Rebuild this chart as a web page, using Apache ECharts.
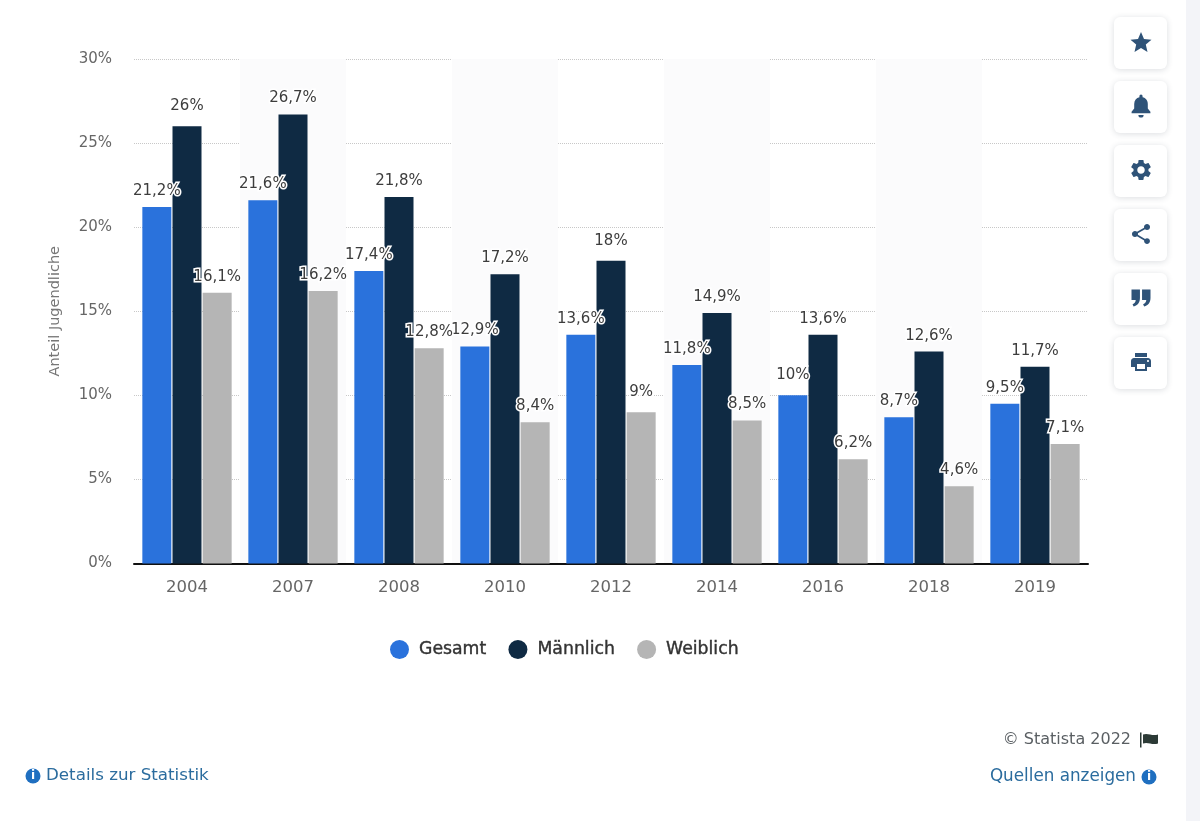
<!DOCTYPE html>
<html>
<head>
<meta charset="utf-8">
<title>Anteil Jugendliche</title>
<script src="https://cdn.jsdelivr.net/npm/echarts@6/dist/echarts.min.js"></script>
<style>
    html, body { margin: 0; padding: 0; background: #fff; }
    #chart { width: 1200px; height: 821px; }
</style>
</head>
<body>
<div id="chart"></div>
<script>
const years = ['2004', '2007', '2008', '2010', '2012', '2014', '2016', '2018', '2019'];
const gesamt = [21.2, 21.6, 17.4, 12.9, 13.6, 11.8, 10, 8.7, 9.5];
const maennlich = [26, 26.7, 21.8, 17.2, 18, 14.9, 13.6, 12.6, 11.7];
const weiblich = [16.1, 16.2, 12.8, 8.4, 9, 8.5, 6.2, 4.6, 7.1];

const fontName = '"DejaVu Sans", sans-serif';
const iconColor = '#2f5378';
const linkColor = '#2b6c9e';

// Toolbar icons on the right
const toolbarIcons = [
    'M12 2l3 6.9 7.5.7-5.7 4.9 1.7 7.3L12 17.9 5.5 21.8l1.7-7.3L1.5 9.6 9 8.9z',
    'M12 23a2.5 2.5 0 0 0 2.5-2.5h-5A2.5 2.5 0 0 0 12 23zM21 19v-1.5l-2.5-3V10c0-3.2-2-5.6-5-6.3V2.5a1.5 1.5 0 0 0-3 0v1.2c-3 .7-5 3.1-5 6.3v4.5l-2.5 3V19z',
    'M19.14 12.94c.04-.3.06-.61.06-.94 0-.32-.02-.64-.07-.94l2.03-1.58c.18-.14.23-.41.12-.61l-1.92-3.32c-.12-.22-.37-.29-.59-.22l-2.39.96c-.5-.38-1.03-.7-1.62-.94l-.36-2.54c-.04-.24-.24-.41-.48-.41h-3.84c-.24 0-.43.17-.47.41l-.36 2.54c-.59.24-1.13.57-1.62.94l-2.39-.96c-.22-.08-.47 0-.59.22L2.74 8.87c-.12.21-.08.47.12.61l2.03 1.58c-.05.3-.09.63-.09.94s.02.64.07.94l-2.03 1.58c-.18.14-.23.41-.12.61l1.92 3.32c.12.22.37.29.59.22l2.39-.96c.5.38 1.03.7 1.62.94l.36 2.54c.05.24.24.41.48.41h3.84c.24 0 .44-.17.47-.41l.36-2.54c.59-.24 1.13-.56 1.62-.94l2.39.96c.22.08.47 0 .59-.22l1.92-3.32c.12-.22.07-.47-.12-.61l-2.01-1.58zM12 15.6c-1.98 0-3.6-1.62-3.6-3.6s1.62-3.6 3.6-3.6 3.6 1.62 3.6 3.6-1.62 3.6-3.6 3.6z',
    'M18 16.08c-.76 0-1.44.3-1.96.77L8.91 12.7c.05-.23.09-.46.09-.7s-.04-.47-.09-.7l7.05-4.11c.54.5 1.25.81 2.04.81 1.66 0 3-1.34 3-3s-1.34-3-3-3-3 1.34-3 3c0 .24.04.47.09.7L8.04 9.81C7.5 9.31 6.79 9 6 9c-1.66 0-3 1.34-3 3s1.34 3 3 3c.79 0 1.5-.31 2.04-.81l7.12 4.16c-.05.21-.08.43-.08.65 0 1.61 1.31 2.92 2.92 2.92 1.61 0 2.92-1.31 2.92-2.92s-1.31-2.92-2.92-2.92z',
    'M3 4h8v8c0 4-2 7-6 8l-1-2c2-.8 3-2.2 3-4H3zM13 4h8v8c0 4-2 7-6 8l-1-2c2-.8 3-2.2 3-4h-4z',
    'M19 8H5c-1.66 0-3 1.34-3 3v6h4v4h12v-4h4v-6c0-1.66-1.34-3-3-3zm-3 11H8v-5h8v5zm3-7c-.55 0-1-.45-1-1s.45-1 1-1 1 .45 1 1-.45 1-1 1zm-1-9H6v4h12V3z'
];
const iconSizes = [21, 23, 20, 20, 19, 20];
const buttonTops = [17, 81, 145, 209, 273, 337];
const flagIcon = 'M0 0h1.5v15H0zM3 2c5-2 9 2 15 0v9c-6 2-10-2-15 0z';

function percentLabel(value) {
    return String(value).replace('.', ',') + '%';
}

function barSeries(name, values, color) {
    return {
        name: name,
        type: 'bar',
        // whole numbers sit a bit higher above their bar
        data: values.map(function(v) {
            return { value: v, label: { distance: Number.isInteger(v) ? 12.5 : 8.5 } };
        }),
        barWidth: 29,
        barGap: '4%',
        itemStyle: { color: color },
        label: {
            show: true,
            position: 'top',
            formatter: function(p) { return percentLabel(p.value); },
            fontFamily: fontName,
            fontSize: 15,
            color: '#3d3d3d',
            textBorderColor: '#fff',
            textBorderWidth: 3
        }
    };
}

function infoIcon(cx, cy) {
    return [
        { type: 'circle', shape: { cx: cx, cy: cy, r: 7.5 }, style: { fill: '#1f6fc0' } },
        { type: 'text', x: cx, y: cy, style: { text: 'i', fill: '#fff', font: 'bold 12px ' + fontName, align: 'center', verticalAlign: 'middle' } }
    ];
}

const toolbar = [{ type: 'rect', shape: { x: 1186, y: 0, width: 14, height: 821 }, style: { fill: '#f3f4f8' } }];
buttonTops.forEach(function(top) {
    toolbar.push({
        type: 'rect',
        shape: { x: 1114, y: top, width: 53, height: 52, r: 6 },
        style: { fill: '#fff', shadowBlur: 6, shadowColor: 'rgba(40,50,70,0.16)', shadowOffsetY: 1 }
    });
});

const footer = [
    ...infoIcon(33, 776),
    { type: 'text', x: 46, y: 776, style: { text: 'Details zur Statistik', fill: linkColor, font: '16.7px ' + fontName, verticalAlign: 'middle' } },
    { type: 'text', x: 1131, y: 740, style: { text: '© Statista 2022', fill: '#5a5f63', font: '16px ' + fontName, align: 'right', verticalAlign: 'middle' } },
    { type: 'text', x: 1136, y: 777, style: { text: 'Quellen anzeigen', fill: linkColor, font: '16.8px ' + fontName, align: 'right', verticalAlign: 'middle' } },
    ...infoIcon(1149, 777)
];

// graphic has no plain path type, the icons go through a custom series
function renderIcons() {
    const children = toolbarIcons.map(function(pathData, i) {
        const size = iconSizes[i];
        return {
            type: 'path',
            shape: { pathData: pathData, layout: 'center', x: 1141 - size / 2, y: buttonTops[i] + 25 - size / 2, width: size, height: size },
            style: { fill: iconColor }
        };
    });
    children.push({
        type: 'path',
        shape: { pathData: flagIcon, layout: 'center', x: 1140, y: 732, width: 18, height: 16 },
        style: { fill: '#2c3a36' }
    });
    return { type: 'group', children: children };
}

const chart = echarts.init(document.getElementById('chart'));
chart.setOption({
    animation: false,
    backgroundColor: '#fff',
    textStyle: { fontFamily: fontName },
    grid: { left: 134, width: 954, top: 59, height: 504.5 },
    legend: {
        data: ['Gesamt', 'Männlich', 'Weiblich'],
        left: 385,
        top: 635,
        icon: 'circle',
        itemWidth: 19,
        itemHeight: 19,
        itemGap: 22,
        textStyle: { fontFamily: fontName, fontSize: 17.3, color: '#333', padding: [0, 0, 0, 5], textBorderColor: '#333', textBorderWidth: 0.4 }
    },
    xAxis: {
        type: 'category',
        data: years,
        axisTick: { show: false },
        axisLine: { lineStyle: { color: '#111', width: 2 } },
        axisLabel: { fontFamily: fontName, fontSize: 16.5, color: '#666', margin: 16 },
        splitArea: { show: true, areaStyle: { color: ['rgba(255,255,255,0)', '#fbfbfc'] } }
    },
    yAxis: {
        type: 'value',
        min: 0,
        max: 30,
        interval: 5,
        name: 'Anteil Jugendliche',
        nameLocation: 'middle',
        nameGap: 71,
        nameTextStyle: { fontFamily: fontName, fontSize: 14.5, color: '#777' },
        axisLine: { show: false },
        axisTick: { show: false },
        axisLabel: { fontFamily: fontName, fontSize: 15, color: '#666', margin: 22, formatter: '{value}%' },
        splitLine: { lineStyle: { color: '#c8c8c8', type: 'dotted' } }
    },
    series: [
        barSeries('Gesamt', gesamt, '#2a72dc'),
        barSeries('Männlich', maennlich, '#0f2a43'),
        barSeries('Weiblich', weiblich, '#b5b5b5'),
        { type: 'custom', coordinateSystem: 'none', data: [0], renderItem: renderIcons, silent: true, z: 10 }
    ],
    graphic: { elements: toolbar.concat(footer) }
});

window.addEventListener('resize', function() {
    chart.resize();
});
</script>
</body>
</html>
